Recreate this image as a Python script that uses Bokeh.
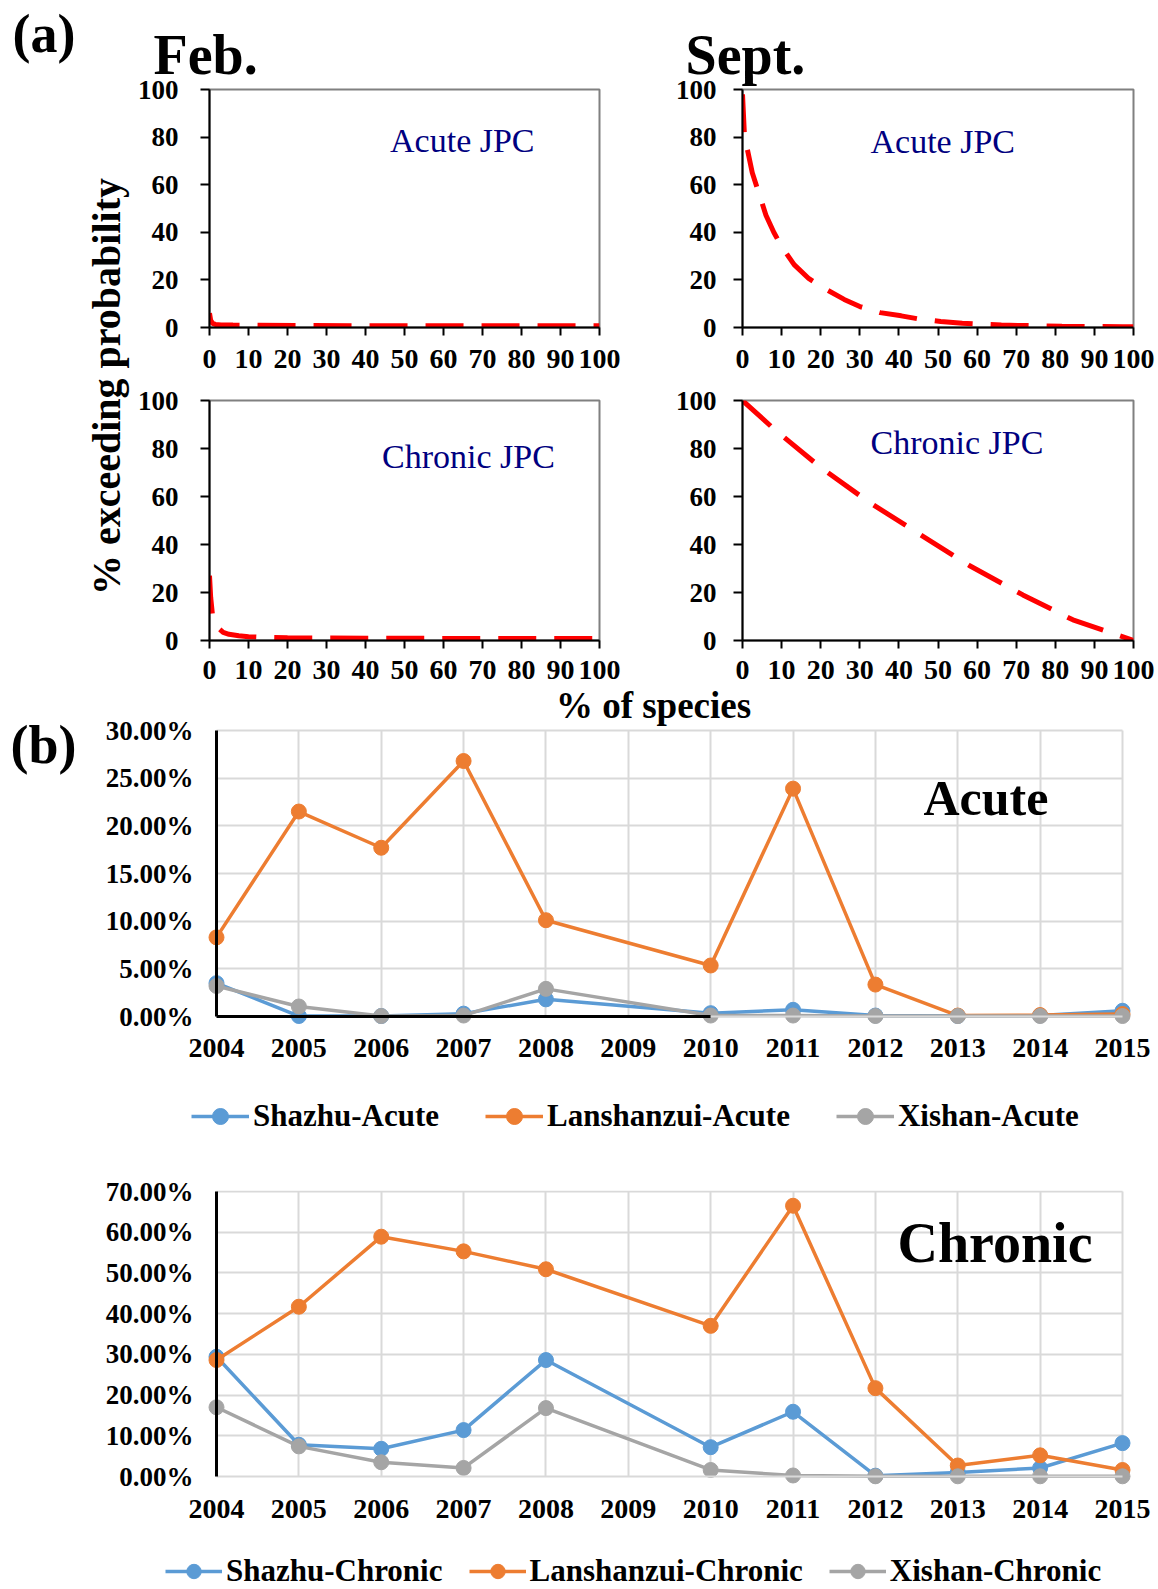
import math
from bokeh.plotting import figure
from bokeh.layouts import row, column
from bokeh.models import (Range1d, FixedTicker, NumeralTickFormatter, Label, Legend,
                          LegendItem, LinearAxis, ColumnDataSource, Title)
from bokeh.embed import file_html
from bokeh.resources import INLINE

SERIF = "Liberation Serif"
RED = "#FF0000"
NAVY = "#000080"
BLUE = "#5B9BD5"
ORANGE = "#ED7D31"
GRAY = "#A5A5A5"
GRID = "#D9D9D9"

# ---------------- (a) data: joint probability curves ----------------
x_ticks_a = [0, 10, 20, 30, 40, 50, 60, 70, 80, 90, 100]
y_ticks_a = [0, 20, 40, 60, 80, 100]

feb_acute_x = [0, 0.3, 0.8, 1.5, 3, 6, 12, 25, 50, 75, 100]
feb_acute_y = [6.0, 3.0, 1.7, 1.3, 1.1, 1.0, 0.9, 0.8, 0.75, 0.7, 0.7]

feb_chronic_x = [0, 0.3, 0.8, 2, 3.5, 5, 7.5, 10, 14, 20, 30, 50, 75, 100]
feb_chronic_y = [27, 18, 10, 5.5, 3.4, 2.6, 2.0, 1.6, 1.3, 1.1, 1.0, 0.9, 0.85, 0.8]

sept_acute_x = [0, 0.5, 1.4, 2.5, 4.1, 6, 8, 10, 13.2, 17, 21.5, 26, 30, 35.2,
                40.6, 45, 50.7, 56.2, 61, 66.2, 73, 81.7, 90, 97.3, 100]
sept_acute_y = [98, 80.5, 73.6, 65, 56.9, 47.2, 40, 34, 26.4, 20.5, 15.9, 11.8, 8.8,
                6.25, 4.9, 3.6, 2.5, 1.8, 1.4, 1.0, 0.8, 0.55, 0.4, 0.3, 0.3]

sept_chronic_x = [0, 7.8, 19.6, 32.4, 45.2, 58, 71.7, 84.5, 100]
sept_chronic_y = [100, 88.5, 72.6, 57.6, 44.4, 31.25, 19, 8.6, 0]

# ---------------- (b) data: yearly exceedance (%) ----------------
years_all = [2004, 2005, 2006, 2007, 2008, 2009, 2010, 2011, 2012, 2013, 2014, 2015]
years = [2004, 2005, 2006, 2007, 2008, 2010, 2011, 2012, 2013, 2014, 2015]

shazhu_acute = [3.5, 0.05, 0.05, 0.3, 1.8, 0.35, 0.7, 0.1, 0.05, 0.1, 0.6]
lanshanzui_acute = [8.3, 21.5, 17.7, 26.8, 10.1, 5.35, 23.9, 3.35, 0.1, 0.15, 0.25]
xishan_acute = [3.2, 1.05, 0.05, 0.1, 2.9, 0.1, 0.1, 0.05, 0.05, 0.05, 0.05]

shazhu_chronic = [29.4, 7.8, 6.8, 11.4, 28.6, 7.2, 15.9, 0.2, 1.0, 2.1, 8.2]
lanshanzui_chronic = [28.6, 41.7, 58.9, 55.3, 50.9, 37.0, 66.5, 21.7, 2.7, 5.2, 1.6]
xishan_chronic = [17.0, 7.4, 3.5, 2.1, 16.8, 1.6, 0.25, 0.05, 0.05, 0.05, 0.05]

acute_ticks = [0.0, 0.05, 0.10, 0.15, 0.20, 0.25, 0.30]
chronic_ticks = [0.0, 0.1, 0.2, 0.3, 0.4, 0.5, 0.6, 0.7]
acute_black_axis = (2004, 2010)

acute_labels = ["Shazhu-Acute", "Lanshanzui-Acute", "Xishan-Acute"]
chronic_labels = ["Shazhu-Chronic", "Lanshanzui-Chronic", "Xishan-Chronic"]
acute_series = [shazhu_acute, lanshanzui_acute, xishan_acute]
chronic_series = [shazhu_chronic, lanshanzui_chronic, xishan_chronic]
series_colors = [BLUE, ORANGE, GRAY]

TEXT_SHIFT = 0.35  # compensates the renderer's baseline placement


def put_text(p, box, dom, X, Y, text, size, bold=True, color="black",
             align="left", angle=0.0):
    X -= TEXT_SHIFT * size * math.sin(angle)
    Y -= TEXT_SHIFT * size * math.cos(angle)
    L, R, T, B = box
    (x0, x1), (y0, y1) = dom
    x = x0 + (X - L) / (R - L) * (x1 - x0)
    y = y0 + (B - Y) / (B - T) * (y1 - y0)
    p.add_layout(Label(x=x, y=y, text=text, text_font=SERIF,
                       text_font_size=f"{size}px",
                       text_font_style="bold" if bold else "normal",
                       text_color=color, text_align=align,
                       text_baseline="alphabetic", angle=angle))


def text_strip(left, top, width, height):
    p = figure(width=width, height=height, x_range=Range1d(0, 1), y_range=Range1d(0, 1),
               x_axis_type=None, y_axis_type=None, output_backend="svg",
               toolbar_location=None, tools="", title=None,
               min_border_left=0, min_border_right=0,
               min_border_top=0, min_border_bottom=0)
    p.outline_line_color = None
    box = (left, left + width, top, top + height)
    return p, box


def style_axis(ax, size):
    ax.major_label_text_font = SERIF
    ax.major_label_text_font_style = "bold"
    ax.major_label_text_font_size = f"{size}px"
    ax.major_label_text_color = "black"
    ax.minor_tick_line_color = None


def line_axis(bounds, loc, color, width):
    return LinearAxis(bounds=bounds, fixed_location=loc, ticker=FixedTicker(ticks=[]),
                      axis_line_color=color, axis_line_width=width,
                      major_tick_line_color=None, minor_tick_line_color=None)


def jpc_fig(fig_left, fig_top, width, height, box, xs, ys, x_stand, y_stand,
            head=None):
    L, R, T, B = box
    p = figure(width=width, height=height,
               x_range=Range1d(0, 100), y_range=Range1d(0, 100),
               output_backend="svg", toolbar_location=None, tools="", title=None,
               min_border_left=L - fig_left, min_border_right=fig_left + width - R,
               min_border_top=T - fig_top, min_border_bottom=fig_top + height - B)
    p.grid.visible = False
    p.outline_line_color = "#808080"
    p.outline_line_width = 2
    for ax in (p.xaxis[0], p.yaxis[0]):
        ax.axis_line_color = "black"
        ax.axis_line_width = 2
        ax.major_tick_line_color = "black"
        ax.major_tick_line_width = 2
        ax.major_tick_in = 0
    style_axis(p.xaxis[0], 28)
    style_axis(p.yaxis[0], 27)
    p.xaxis.ticker = FixedTicker(ticks=x_ticks_a)
    p.yaxis.ticker = FixedTicker(ticks=y_ticks_a)
    p.xaxis.major_tick_out = 8
    p.yaxis.major_tick_out = 9
    p.xaxis.major_label_standoff = x_stand
    p.yaxis.major_label_standoff = y_stand
    if head is not None:
        text, X = head
        p.add_layout(Title(text=text, align="left", offset=X - L, standoff=8,
                           vertical_align="bottom", text_font=SERIF,
                           text_font_size="56px", text_font_style="bold",
                           text_color="black"), "above")
    p.line(xs, ys, line_color=RED, line_width=5, line_dash="38 18")
    return p


DOM_A = ((0, 100), (0, 100))
DOM_U = ((0, 1), (0, 1))

# ---------------- panel (a) ----------------
FA = (208, 599, 89, 327)
SA = (742, 1133, 89, 327)
FC = (208, 599, 400, 640)
SC = (742, 1133, 400, 640)

fa = jpc_fig(134, 0, 506, 381, FA, feb_acute_x, feb_acute_y, 14, 22, head=("Feb.", 152))
sa = jpc_fig(640, 0, 518, 381, SA, sept_acute_x, sept_acute_y, 14, 17, head=("Sept.", 685))
fc = jpc_fig(134, 381, 506, 305, FC, feb_chronic_x, feb_chronic_y, 12, 22)
sc = jpc_fig(640, 381, 518, 305, SC, sept_chronic_x, sept_chronic_y, 12, 17)

put_text(fa, FA, DOM_A, 389, 152, "Acute JPC", 34, bold=False, color=NAVY)
put_text(sa, SA, DOM_A, 870, 153, "Acute JPC", 34, bold=False, color=NAVY)
put_text(fc, FC, DOM_A, 381, 468, "Chronic JPC", 34, bold=False, color=NAVY)
put_text(sc, SC, DOM_A, 870, 454, "Chronic JPC", 34, bold=False, color=NAVY)

lab, LABBOX = text_strip(0, 0, 134, 686)
put_text(lab, LABBOX, DOM_U, 12, 52, "(a)", 54)
put_text(lab, LABBOX, DOM_U, 120, 386, "% exceeding probability", 40,
         align="center", angle=math.pi / 2)


# ---------------- panel (b) ----------------
def trend_fig(fig_left, fig_top, width, height, box, frame, ymax, yticks,
              series, x_stand, y_stand, black_axis=None):
    L, R, T, B = box
    fL, fR, fT, fB = frame
    x0, x1 = years_all[0], years_all[-1]
    upx = (x1 - x0) / (R - L)
    vpx = ymax / (B - T)
    p = figure(width=width, height=height,
               x_range=Range1d(x0 - (L - fL) * upx, x1 + (fR - R) * upx),
               y_range=Range1d(-(fB - B) * vpx, ymax + (T - fT) * vpx),
               output_backend="svg", toolbar_location=None, tools="", title=None,
               min_border_left=fL - fig_left, min_border_right=fig_left + width - fR,
               min_border_top=fT - fig_top, min_border_bottom=fig_top + height - fB)
    p.outline_line_color = None
    p.xgrid.ticker = FixedTicker(ticks=years_all[1:])
    p.ygrid.ticker = FixedTicker(ticks=yticks[1:])
    p.xgrid.cross_bounds = (0, ymax)
    p.ygrid.cross_bounds = (x0, x1)
    p.grid.grid_line_color = GRID
    p.grid.grid_line_width = 2

    # tick-label axes at the frame edges
    yax = p.yaxis[0]
    style_axis(yax, 27)
    yax.ticker = FixedTicker(ticks=yticks)
    yax.formatter = NumeralTickFormatter(format="0.00%")
    yax.axis_line_color = None
    yax.major_tick_line_color = None
    yax.major_tick_in = 0
    yax.major_tick_out = 0
    yax.major_label_standoff = y_stand

    xax = p.xaxis[0]
    style_axis(xax, 28)
    xax.ticker = FixedTicker(ticks=years_all)
    xax.axis_line_color = None
    xax.major_tick_line_color = None
    xax.major_tick_in = 0
    xax.major_tick_out = 0
    xax.major_label_standoff = x_stand

    # axis lines at the data origin
    p.add_layout(line_axis((0, ymax), x0, "black", 3), "left")
    p.add_layout(line_axis((x0, x1), 0, GRID, 2), "below")
    if black_axis is not None:
        p.add_layout(line_axis(black_axis, 0, "black", 3), "below")

    for vals, color in zip(series, series_colors):
        src = ColumnDataSource(dict(x=years, y=[v / 100.0 for v in vals]))
        p.line("x", "y", source=src, line_color=color, line_width=3.5)
        p.scatter("x", "y", source=src, size=15, fill_color=color, line_color=color)
    return p


def legend_strip(top, height, series, labels, loc, spacing, glyph_w, glyph_h):
    p, _ = text_strip(0, top, 1158, height)
    items = []
    for vals, color, label in zip(series, series_colors, labels):
        # same series drawn off-view: only their legend entries are visible here
        src = ColumnDataSource(dict(x=years, y=[v / 100.0 for v in vals]))
        lr = p.line("x", "y", source=src, line_color=color, line_width=3.5)
        sr = p.scatter("x", "y", source=src, size=15, fill_color=color, line_color=color)
        items.append(LegendItem(label=label, renderers=[lr, sr]))
    leg = Legend(items=items, orientation="horizontal", location=loc,
                 label_text_font=SERIF, label_text_font_style="bold",
                 label_text_font_size="31px", label_text_color="black",
                 glyph_width=glyph_w, glyph_height=glyph_h, label_height=glyph_h,
                 label_standoff=4, spacing=spacing, padding=0, margin=0,
                 border_line_alpha=0, background_fill_alpha=0)
    p.add_layout(leg)
    return p


AC = (216, 1122, 730, 1016)
AC_FRAME = (206, 1132, 686, 1026)
CH = (216, 1122, 1191, 1476)
CH_FRAME = (206, 1132, 1190, 1486)

acute = trend_fig(85, 686, 1073, 400, AC, AC_FRAME, 0.30, acute_ticks,
                  acute_series, 12, 13, black_axis=acute_black_axis)
chronic = trend_fig(0, 1150, 1158, 392, CH, CH_FRAME, 0.70, chronic_ticks,
                    chronic_series, 13, 13)

DOM_AC = ((2004, 2015), (0, 0.30))
DOM_CH = ((2004, 2015), (0, 0.70))
put_text(acute, AC, DOM_AC, 653, 718, "% of species", 37, align="center")
put_text(acute, AC, DOM_AC, 923, 815, "Acute", 50)
put_text(chronic, CH, DOM_CH, 897, 1262, "Chronic", 56)

lab_b, LABB = text_strip(0, 686, 85, 400)
put_text(lab_b, LABB, DOM_U, 10, 763, "(b)", 54)

legend_a = legend_strip(1086, 64, acute_series, acute_labels, (191, 14), 46, 58, 40)
legend_c = legend_strip(1542, 47, chronic_series, chronic_labels, (165, 0), 26, 57, 36)

layout = column(
    row(lab, column(row(fa, sa), row(fc, sc))),
    row(column(lab_b), acute),
    legend_a,
    row(chronic),
    legend_c,
)

open("out.html", "w").write(file_html(layout, INLINE))
